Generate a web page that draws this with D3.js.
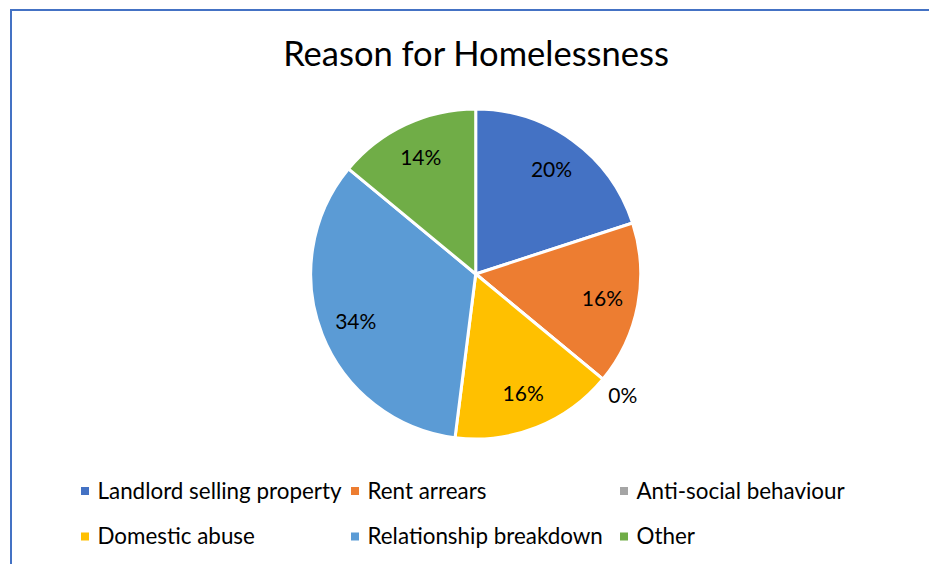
<!DOCTYPE html>
<html>
<head>
<meta charset="utf-8">
<script src="https://cdn.jsdelivr.net/npm/d3@7"></script>
<style>
  html, body { margin: 0; padding: 0; background: #fff; }
  svg { display: block; }
  text { font-family: Lato, "Noto Sans", sans-serif; fill: #000; }
</style>
</head>
<body>
<svg id="chart" width="929" height="564"></svg>
<script>
// Survey responses by reason (counts)
const categories = [
  "Landlord selling property",
  "Rent arrears",
  "Anti-social behaviour",
  "Domestic abuse",
  "Relationship breakdown",
  "Other"
];
const counts = [10, 8, 0, 8, 17, 7];
const colors = ["#4472C4", "#ED7D31", "#A5A5A5", "#FFC000", "#5B9BD5", "#70AD47"];
const title = "Reason for Homelessness";

const svg = d3.select("#chart");
const W = 929, H = 564;

// Chart area frame
svg.append("rect")
  .attr("x", 0).attr("y", 0).attr("width", W).attr("height", H)
  .attr("fill", "#fff");
svg.append("path")
  .attr("d", "M11,564 L11,10 L929,10")
  .attr("fill", "none")
  .attr("stroke", "#4472C4")
  .attr("stroke-width", 2);

// Title
svg.append("text")
  .attr("x", 476).attr("y", 66)
  .attr("text-anchor", "middle")
  .attr("font-size", 34.5)
  .text(title);

// Pie
const cx = 475.7, cy = 274, R = 165;
const total = d3.sum(counts);
const data = categories.map((c, i) => ({ name: c, value: counts[i], color: colors[i] }));
const pie = d3.pie().value(d => d.value).sort(null);
const arcs = pie(data);
const arc = d3.arc().innerRadius(0).outerRadius(R);
const labelArc = d3.arc().innerRadius(129).outerRadius(129);
const outerLabelArc = d3.arc().innerRadius(191).outerRadius(191);

const g = svg.append("g").attr("transform", `translate(${cx},${cy})`);
g.selectAll("path.slice")
  .data(arcs)
  .join("path")
  .attr("class", "slice")
  .attr("d", arc)
  .attr("fill", d => d.data.color)
  .attr("stroke", "#fff")
  .attr("stroke-width", 3)
  .attr("stroke-linejoin", "round");

const fmt = v => Math.round(v / total * 100) + "%";
g.selectAll("text.lbl")
  .data(arcs)
  .join("text")
  .attr("class", "lbl")
  .attr("transform", d => {
    const p = (d.data.value === 0 ? outerLabelArc : labelArc).centroid(d);
    return `translate(${p[0]},${p[1]})`;
  })
  .attr("text-anchor", "middle")
  .attr("dy", "0.35em")
  .attr("font-size", 21)
  .text(d => fmt(d.data.value));

// Legend: three columns, two rows
const colX = [81, 351, 620];
const rowY = [491, 536.5];
const leg = svg.append("g");
data.forEach((d, i) => {
  const x = colX[i % 3], y = rowY[Math.floor(i / 3)];
  leg.append("rect")
    .attr("x", x).attr("y", y - 4).attr("width", 8).attr("height", 8)
    .attr("fill", d.color);
  leg.append("text")
    .attr("x", x + 16.5).attr("y", y)
    .attr("dy", "0.35em")
    .attr("font-size", 22.4)
    .text(d.name);
});
</script>
</body>
</html>
